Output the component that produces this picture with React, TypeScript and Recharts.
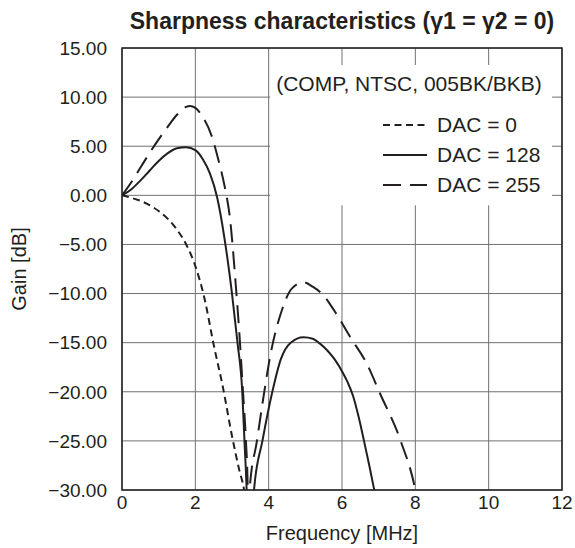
import React from 'react';
import {
  LineChart,
  Line,
  XAxis,
  YAxis,
  CartesianGrid,
  ReferenceArea,
  Legend,
  Customized,
} from 'recharts';

const FONT = '"Liberation Sans", Arial, Helvetica, sans-serif';
const INK = '#231f20';

const xTicks = [0, 2, 4, 6, 8, 10, 12];
const yTicks = [-30, -25, -20, -15, -10, -5, 0, 5, 10, 15];

// DAC = 0 (short dash)
const dac0Freq = [0, 0.25, 0.5, 0.75, 1.0, 1.25, 1.5, 1.75, 2.0, 2.25, 2.5, 2.75, 3.0, 3.2, 3.33, 3.4];
const dac0Gain = [0, -0.25, -0.55, -1.0, -1.6, -2.4, -3.5, -5.0, -7.2, -10.5, -15.2, -19.5, -24.5, -28, -30, -32];

// DAC = 128 (solid)
const dac128Freq = [0, 0.25, 0.5, 0.75, 1.0, 1.25, 1.5, 1.75, 2.0, 2.2, 2.4, 2.6, 2.8, 3.0, 3.15, 3.28, 3.34, 3.4, 3.5, 3.6, 3.83, 4.1, 4.33, 4.6, 4.95, 5.2, 5.4, 5.6, 5.8, 6.0, 6.15, 6.3, 6.45, 6.6, 6.75, 6.88, 7.0];
const dac128Gain = [0, 0.6, 1.5, 2.5, 3.5, 4.3, 4.8, 4.9, 4.6, 3.7, 2.2, -0.3, -4.5, -10, -15, -20, -25, -30, -45, -30, -25, -20, -16.7, -15.0, -14.45, -14.6, -15.1, -15.8, -16.7, -17.9, -19.0, -20.4, -22.5, -25, -27.6, -30, -32];

// DAC = 255 (long dash)
const dac255Freq = [0, 0.25, 0.5, 0.75, 1.0, 1.25, 1.5, 1.75, 1.85, 2.0, 2.2, 2.45, 2.63, 2.8, 2.95, 3.1, 3.2, 3.3, 3.38, 3.43, 3.455, 3.48, 3.68, 3.88, 4.04, 4.36, 4.63, 4.95, 5.2, 5.5, 5.8, 6.22, 6.67, 7.04, 7.6, 8.0, 8.1];
const dac255Gain = [0, 1.3, 2.8, 4.3, 5.7, 7.0, 8.2, 9.0, 9.1, 8.9, 8.0, 6.0, 3.6, 0.9, -2.5, -9, -14, -20, -25, -30, -45, -30, -25, -20, -16.4, -11.7, -9.5, -8.85, -9.3, -10.2, -11.8, -14.4, -17.1, -20.2, -25, -30, -32];

const series = [
  { name: 'DAC = 0', freq: dac0Freq, gain: dac0Gain, dash: '7 4.5' },
  { name: 'DAC = 128', freq: dac128Freq, gain: dac128Gain, dash: undefined },
  { name: 'DAC = 255', freq: dac255Freq, gain: dac255Gain, dash: '18 9' },
];

const toPoints = (freq: number[], gain: number[]) =>
  freq.map((f, i) => ({ f, g: gain[i] }));

const fmtGain = (v: number) => `${v < 0 ? '\u2212' : ''}${Math.abs(v).toFixed(2)}`;

function LegendBox() {
  return (
    <svg width={290} height={140} style={{ display: 'block', overflow: 'visible' }}>
      <text x={139} y={22} dy="0.35em" textAnchor="middle" fontSize={21} fill={INK} fontFamily={FONT}>
        (COMP, NTSC, 005BK/BKB)
      </text>
      {series.map((s, i) => (
        <g key={s.name}>
          <line
            x1={113}
            x2={157}
            y1={63 + i * 30}
            y2={63 + i * 30}
            stroke={INK}
            strokeWidth={2}
            strokeDasharray={s.dash}
          />
          <text x={167} y={63 + i * 30} dy="0.35em" fontSize={21} fill={INK} fontFamily={FONT}>
            {s.name}
          </text>
        </g>
      ))}
    </svg>
  );
}

function Titles() {
  return (
    <g fontFamily={FONT} fill={INK}>
      <text x={342} y={21} dy="0.35em" textAnchor="middle" fontSize={23} fontWeight="bold">
        Sharpness characteristics (γ1 = γ2 = 0)
      </text>
    </g>
  );
}

export default function App() {
  return (
    <div style={{ position: 'absolute', left: 0, top: 0, background: '#fff' }}>
      <LineChart width={575} height={548} margin={{ top: 48, right: 13, bottom: 0, left: 0 }}>
        <CartesianGrid stroke="#707070" strokeWidth={1} />
        <XAxis
          type="number"
          dataKey="f"
          domain={[0, 12]}
          ticks={xTicks}
          allowDataOverflow
          height={58}
          axisLine={false}
          tickLine={false}
          tickSize={0}
          tickMargin={6}
          tick={{ fontSize: 19, fill: INK, fontFamily: FONT }}
          label={{
            value: 'Frequency [MHz]',
            position: 'insideBottom',
            offset: 8,
            fontSize: 20,
            fill: INK,
            fontFamily: FONT,
          }}
        />
        <YAxis
          type="number"
          domain={[-30, 15]}
          ticks={yTicks}
          allowDataOverflow
          width={122}
          axisLine={false}
          tickLine={false}
          tickSize={0}
          tickMargin={15}
          tickFormatter={fmtGain}
          tick={{ fontSize: 19, fill: INK, fontFamily: FONT }}
          label={{
            value: 'Gain [dB]',
            angle: -90,
            position: 'insideLeft',
            offset: 19,
            fontSize: 20,
            fill: INK,
            fontFamily: FONT,
            style: { textAnchor: 'middle' },
          }}
        />
        <ReferenceArea x1={4.04} x2={11.73} y1={-1.0} y2={13.27} fill="#fff" fillOpacity={1} stroke="none" />
        <ReferenceArea x1={0} x2={12} y1={-30} y2={15} fill="none" stroke={INK} strokeWidth={1.5} />
        {series.map((s) => (
          <Line
            key={s.name}
            name={s.name}
            data={toPoints(s.freq, s.gain)}
            dataKey="g"
            type="monotone"
            stroke={INK}
            strokeWidth={2}
            strokeDasharray={s.dash}
            dot={false}
            activeDot={false}
            isAnimationActive={false}
          />
        ))}
        <Legend
          layout="horizontal"
          verticalAlign="middle"
          align="center"
          content={() => <LegendBox />}
          wrapperStyle={{ left: 270, top: 62, width: 290, height: 140 }}
        />
        <Customized component={Titles} />
      </LineChart>
    </div>
  );
}
